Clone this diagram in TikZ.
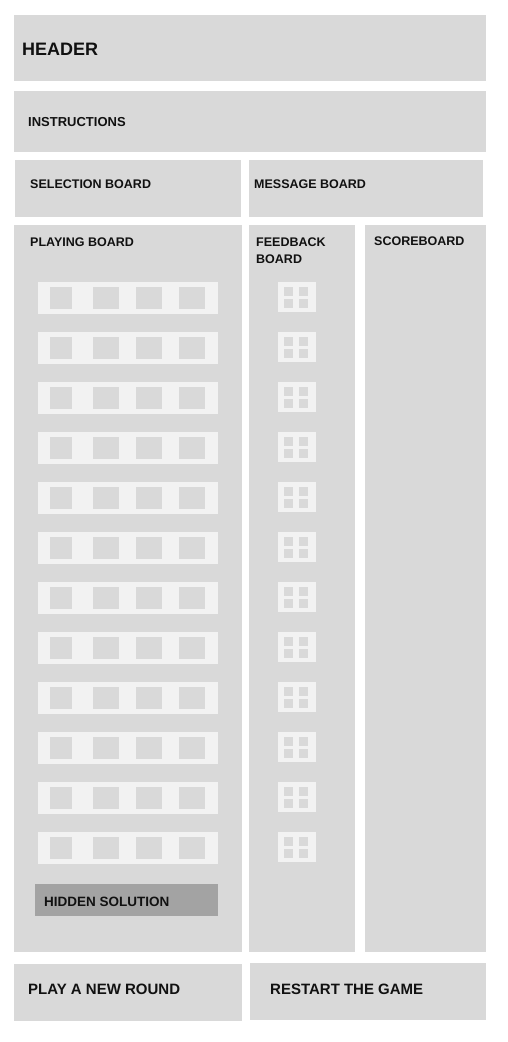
\documentclass[tikz,border=0pt]{standalone}
\usepackage{fontspec}
\setmainfont{Liberation Sans}
\usepackage{xcolor}
\definecolor{panel}{HTML}{D9D9D9}
\definecolor{slot}{HTML}{F2F2F2}
\definecolor{shade}{HTML}{A3A3A3}
\definecolor{ink}{HTML}{111111}
\tikzset{
  panel/.style={fill=panel},
  slotrow/.style={fill=slot},
  peg/.style={fill=panel},
  hidden/.style={fill=shade},
  lbl/.style={anchor=base west,inner sep=0pt,text=ink,font=\bfseries\fontsize{#1}{#1}\selectfont},
  lbl/.default=12.5,
}
\begin{document}
\begin{tikzpicture}[x=1pt,y=-1pt]
  \useasboundingbox (0,0) rectangle (507,1042);
  % panels
  \fill[panel] (14,15) rectangle (486,81);
  \fill[panel] (14,91) rectangle (486,152);
  \fill[panel] (15,160) rectangle (241,217);
  \fill[panel] (249,160) rectangle (483,217);
  \fill[panel] (14,225) rectangle (242,952);
  \fill[panel] (249,225) rectangle (355,952);
  \fill[panel] (365,225) rectangle (486,952);
  \fill[panel] (14,964) rectangle (242,1021);
  \fill[panel] (250,963) rectangle (486,1020);

  % guess rows and feedback pegs
  \foreach \r in {0,...,11}{
    \pgfmathsetmacro{\t}{282+50*\r}
    \fill[slotrow] (38,\t) rectangle (218,\t+32);
    \foreach \a/\b in {50/72,93/119,136/162,179/205}
      \fill[peg] (\a,\t+5) rectangle (\b,\t+27);
    \fill[slotrow] (278,\t) rectangle (316,\t+30);
    \foreach \a in {284,299}
      \foreach \c in {5,17}
        \fill[peg] (\a,\t+\c) rectangle (\a+9,\t+\c+9);
  }
  \fill[hidden] (35,884) rectangle (218,916);

  % labels
  \node[lbl=18] (header) at (22,55) {HEADER};
  \node[lbl=13] (instr) at (28,126) {INSTRUCTIONS};
  \node[lbl] (select) at (30,188) {SELECTION BOARD};
  \node[lbl] (message) at (254,188) {MESSAGE BOARD};
  \node[lbl] (playing) at (30,246) {PLAYING BOARD};
  \node[lbl] (feedback) at (256,246) {FEEDBACK};
  \node[lbl] (feedback2) at (256,263) {BOARD};
  \node[lbl] (score) at (374,245) {SCOREBOARD};
  \node[lbl=13.5] (solution) at (44,906) {HIDDEN SOLUTION};
  \node[lbl=15] (newround) at (28,994) {PLAY A NEW ROUND};
  \node[lbl=15] (restart) at (270,994) {RESTART THE GAME};
\end{tikzpicture}
\end{document}
